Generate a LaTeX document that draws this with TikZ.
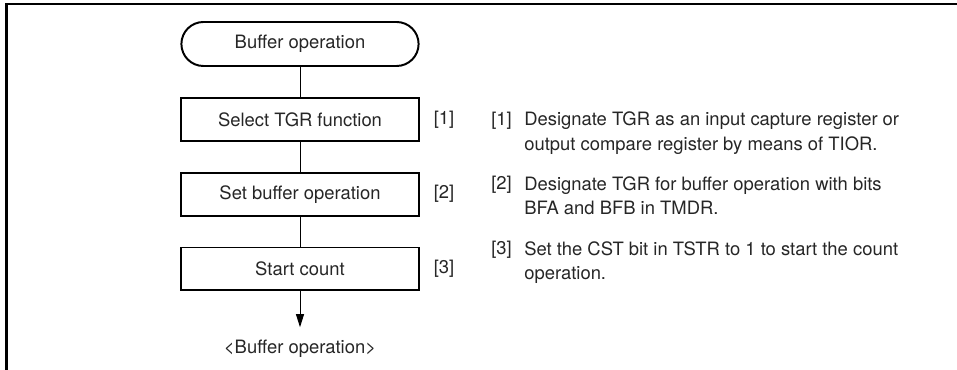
\documentclass[tikz,border=0pt]{standalone}
\usepackage{fontspec}
\setmainfont{TeX Gyre Heros}
\usetikzlibrary{positioning,arrows.meta}

\begin{document}
\begin{tikzpicture}[
    node distance=0.75cm,
    every node/.style={font=\fontsize{13.1}{17.7}\selectfont, text=black!85},
    term/.style={rectangle, rounded corners=0.55cm, draw, line width=1.4pt, minimum width=5.93cm, minimum height=1.1cm},
    proc/.style={rectangle, draw, line width=1.4pt, minimum width=5.93cm, minimum height=1.07cm},
    stepnum/.style={inner sep=0pt},
    note/.style={align=left, anchor=north west, inner sep=0pt},
    flow/.style={line width=0.7pt},
    frame/.style={line width=1.5pt}
]
\useasboundingbox (0,0) rectangle (23.925,-9.25);

% 外框
\draw[frame] (0.1625,-9.25) |- (23.925,-0.1);

% 流程图节点
\node[term] (start) at (7.5,-1.1) {Buffer operation};
\node[proc, below=of start] (s1) {Select TGR function};
\node[proc, below=of s1] (s2) {Set buffer operation};
\node[proc, below=of s2] (s3) {Start count};
\node[inner sep=0pt, below=1.2cm of s3] (res) {<Buffer operation>};

% 流程图连线
\draw[flow] (start) -- (s1);
\draw[flow] (s1) -- (s2);
\draw[flow] (s2) -- (s3);
\draw[flow, -{Triangle[length=0.33cm, width=0.2cm]}, shorten >=0.3cm] (s3) -- (res);

% 步骤编号
\node[stepnum, right=0.35cm of s1] (k1) {[1]};
\node[stepnum, right=0.35cm of s2] (k2) {[2]};
\node[stepnum, right=0.35cm of s3] (k3) {[3]};

% 说明文字
\node[note] (m1) at (12.275,-2.79) {[1]};
\node[note] (t1) at (13.1,-2.79) {Designate TGR as an input capture register or\\output compare register by means of TIOR.};
\node[note] (m2) at (12.275,-4.4) {[2]};
\node[note] (t2) at (13.1,-4.4) {Designate TGR for buffer operation with bits\\BFA and BFB in TMDR.};
\node[note] (m3) at (12.275,-6.025) {[3]};
\node[note] (t3) at (13.1,-6.025) {Set the CST bit in TSTR to 1 to start the count\\operation.};

\end{tikzpicture}
\end{document}
